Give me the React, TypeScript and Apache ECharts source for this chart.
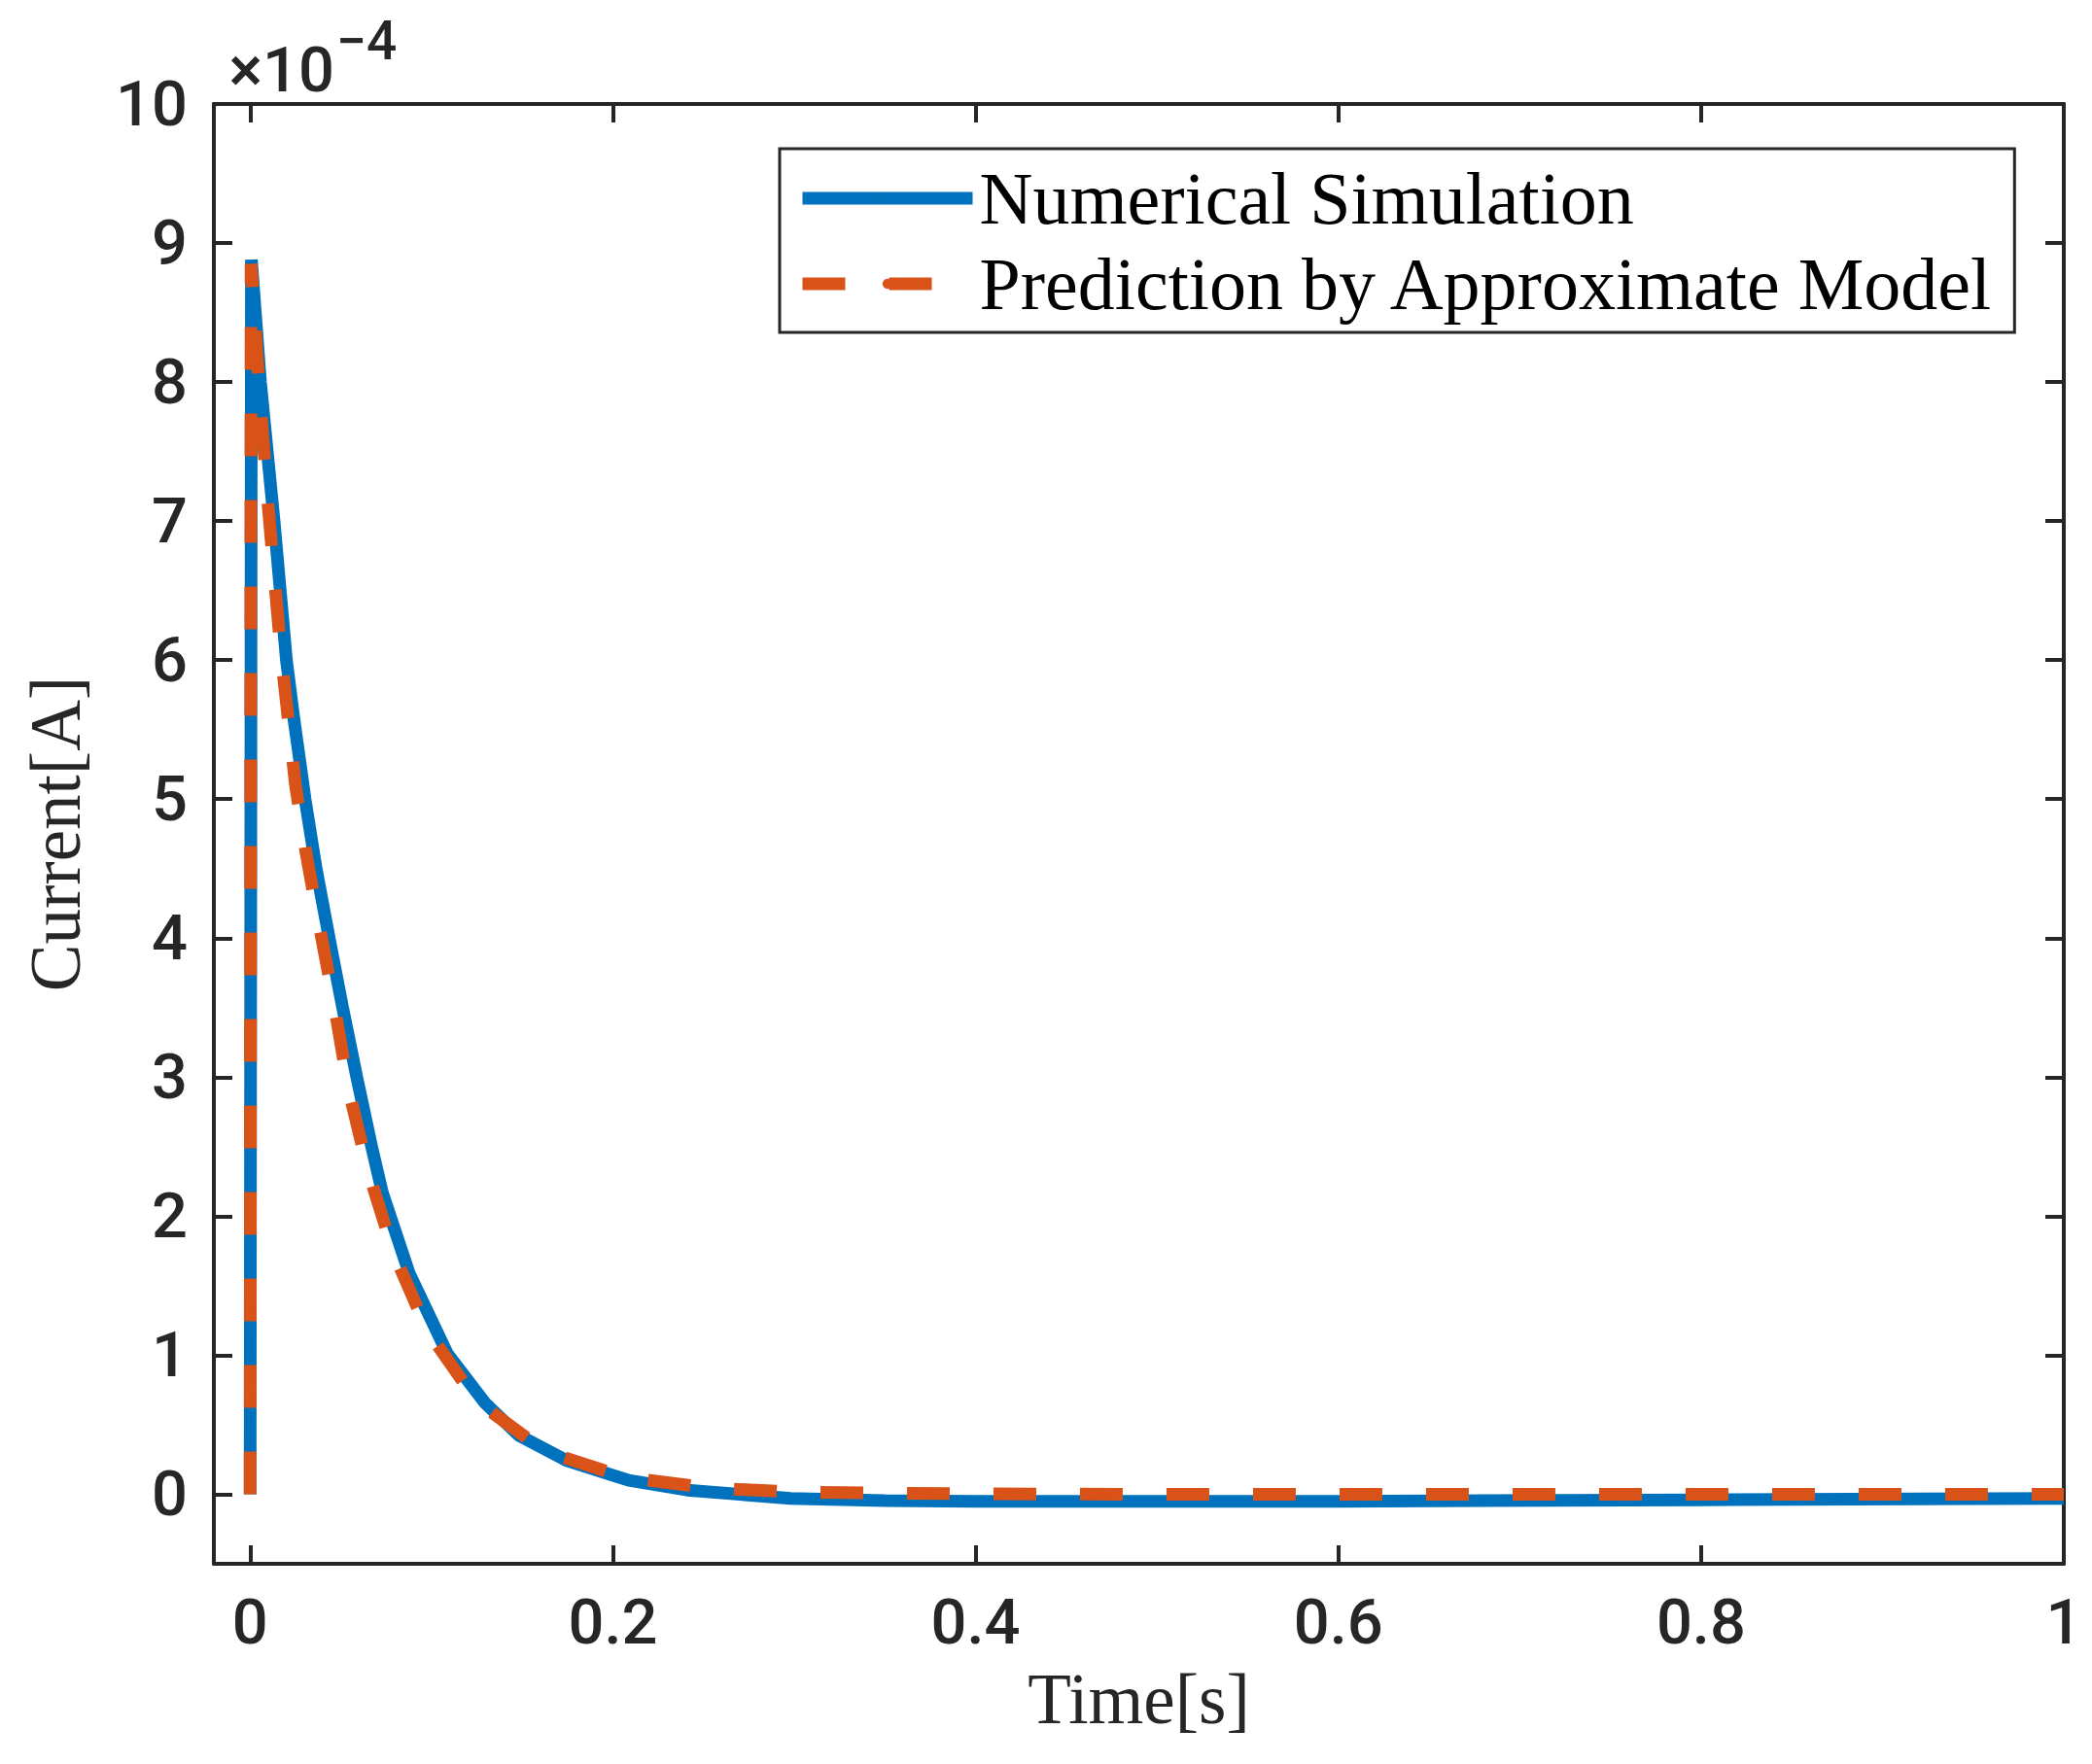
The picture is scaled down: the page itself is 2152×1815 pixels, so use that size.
import React, { useEffect, useRef } from 'react';
import * as echarts from 'echarts';

// Current in units of 1e-4 A, time in seconds
const simTime = [0, 0.0007, 0.0057, 0.0132, 0.02, 0.0241, 0.0303, 0.0364, 0.0436, 0.051, 0.0588, 0.067, 0.0729, 0.0877, 0.1088, 0.1293, 0.148, 0.175, 0.2088, 0.241, 0.298, 0.35, 0.4, 0.45, 0.6, 0.8, 1.0];
const simCurrent = [0, 8.88, 8.0, 7.0, 6.0, 5.58, 5.0, 4.5, 4.0, 3.5, 3.0, 2.5, 2.17, 1.59, 1.01, 0.66, 0.425, 0.24, 0.1, 0.03, -0.03, -0.045, -0.05, -0.05, -0.05, -0.04, -0.03];

const modelTime = [0, 0.0005, 0.005, 0.01, 0.017, 0.025, 0.031, 0.0377, 0.046, 0.0543, 0.0654, 0.0793, 0.098, 0.1249, 0.1624, 0.2067, 0.2535, 0.298, 0.35, 0.4, 0.5, 0.8, 1.0];
const modelCurrent = [0, 8.85, 7.95, 7.1, 6.05, 5.1, 4.6, 4.12, 3.55, 2.91, 2.31, 1.73, 1.17, 0.67, 0.31, 0.122, 0.045, 0.017, 0.008, 0.003, 0, 0, 0];

const seriesNames = ['Numerical Simulation', 'Prediction by Approximate Model'];
const xTicks = [0, 0.2, 0.4, 0.6, 0.8, 1];
const yTicks = [0, 1, 2, 3, 4, 5, 6, 7, 8, 9, 10];

const axisColor = '#262626';
const tickFont = "Roboto, 'Liberation Sans', Arial, sans-serif";
const serifFont = "'Liberation Serif', 'DejaVu Serif', serif";

const pairs = (xs: number[], ys: number[]) => xs.map((x, i) => [x, ys[i]]);

const App: React.FC = () => {
  const chartRef = useRef<HTMLDivElement>(null);

  useEffect(() => {
    document.body.style.margin = '0';
    if (!chartRef.current) return;
    const chart = echarts.init(chartRef.current, undefined, { renderer: 'svg' });

    const baseAxisLine = { show: true, onZero: false, lineStyle: { color: axisColor, width: 4 } };
    const baseTick = { show: true, inside: true, length: 19, lineStyle: { color: axisColor, width: 4 } };
    const labelStyle = {
      margin: 27,
      color: axisColor,
      fontFamily: tickFont,
      fontWeight: 500,
      fontSize: 65,
      formatter: (v: number) => String(v),
    };

    const xAxisCommon = (pos: 'bottom' | 'top', labels: boolean) => ({
      type: 'value',
      position: pos,
      min: -0.02,
      max: 1,
      axisLine: baseAxisLine,
      axisTick: { ...baseTick, customValues: xTicks },
      axisLabel: { ...labelStyle, show: labels, customValues: xTicks },
      splitLine: { show: false },
    });

    const yAxisCommon = (pos: 'left' | 'right', labels: boolean) => ({
      type: 'value',
      position: pos,
      min: -0.5,
      max: 10,
      axisLine: baseAxisLine,
      axisTick: { ...baseTick, customValues: yTicks },
      axisLabel: { ...labelStyle, show: labels, customValues: yTicks },
      splitLine: { show: false },
    });

    const option: any = {
      animation: false,
      backgroundColor: '#ffffff',
      grid: {
        left: 220,
        right: 29,
        top: 107,
        bottom: 206,
        containLabel: false,
        outerBoundsMode: 'none',
      },
      xAxis: [
        {
          ...xAxisCommon('bottom', true),
          name: 'Time[s]',
          nameLocation: 'middle',
          nameGap: 139,
          nameTextStyle: {
            fontFamily: serifFont,
            fontSize: 73,
            color: axisColor,
            verticalAlign: 'middle',
          },
        },
        xAxisCommon('top', false),
      ],
      yAxis: [
        {
          ...yAxisCommon('left', true),
          name: 'Current[A]',
          nameLocation: 'middle',
          nameGap: 163,
          nameRotate: 90,
          nameTextStyle: {
            fontFamily: serifFont,
            fontSize: 73,
            color: axisColor,
            verticalAlign: 'middle',
          },
        },
        yAxisCommon('right', false),
      ],
      legend: {
        orient: 'vertical',
        left: 802,
        top: 153,
        padding: [11, 20, 10, 17],
        itemWidth: 175,
        itemHeight: 13,
        itemGap: 8,
        borderColor: axisColor,
        borderWidth: 3,
        backgroundColor: '#ffffff',
        lineStyle: { width: 13 },
        textStyle: {
          fontFamily: serifFont,
          fontSize: 76,
          lineHeight: 80,
          color: '#000000',
          padding: [0, 0, 0, 2],
        },
        data: seriesNames,
      },
      graphic: [
        {
          type: 'text',
          x: 344,
          y: 72,
          style: {
            text: '×10',
            fill: axisColor,
            font: `500 65px ${tickFont}`,
            textAlign: 'right',
            textVerticalAlign: 'middle',
          },
        },
        {
          type: 'text',
          x: 346,
          y: 42,
          style: {
            text: '−4',
            fill: axisColor,
            font: `500 55px ${tickFont}`,
            textAlign: 'left',
            textVerticalAlign: 'middle',
          },
        },
      ],
      series: [
        {
          name: seriesNames[0],
          type: 'line',
          xAxisIndex: 0,
          yAxisIndex: 0,
          data: pairs(simTime, simCurrent),
          symbol: 'none',
          color: '#0072BD',
          lineStyle: { color: '#0072BD', width: 13, join: 'bevel' },
        },
        {
          name: seriesNames[1],
          type: 'line',
          xAxisIndex: 0,
          yAxisIndex: 0,
          data: pairs(modelTime, modelCurrent),
          symbol: 'none',
          color: '#D95319',
          lineStyle: { color: '#D95319', width: 13, type: [44, 45], join: 'bevel' },
        },
      ],
    };

    chart.setOption(option);

    return () => {
      chart.dispose();
    };
  }, []);

  return <div ref={chartRef} style={{ width: 2152, height: 1815 }} />;
};

export default App;
